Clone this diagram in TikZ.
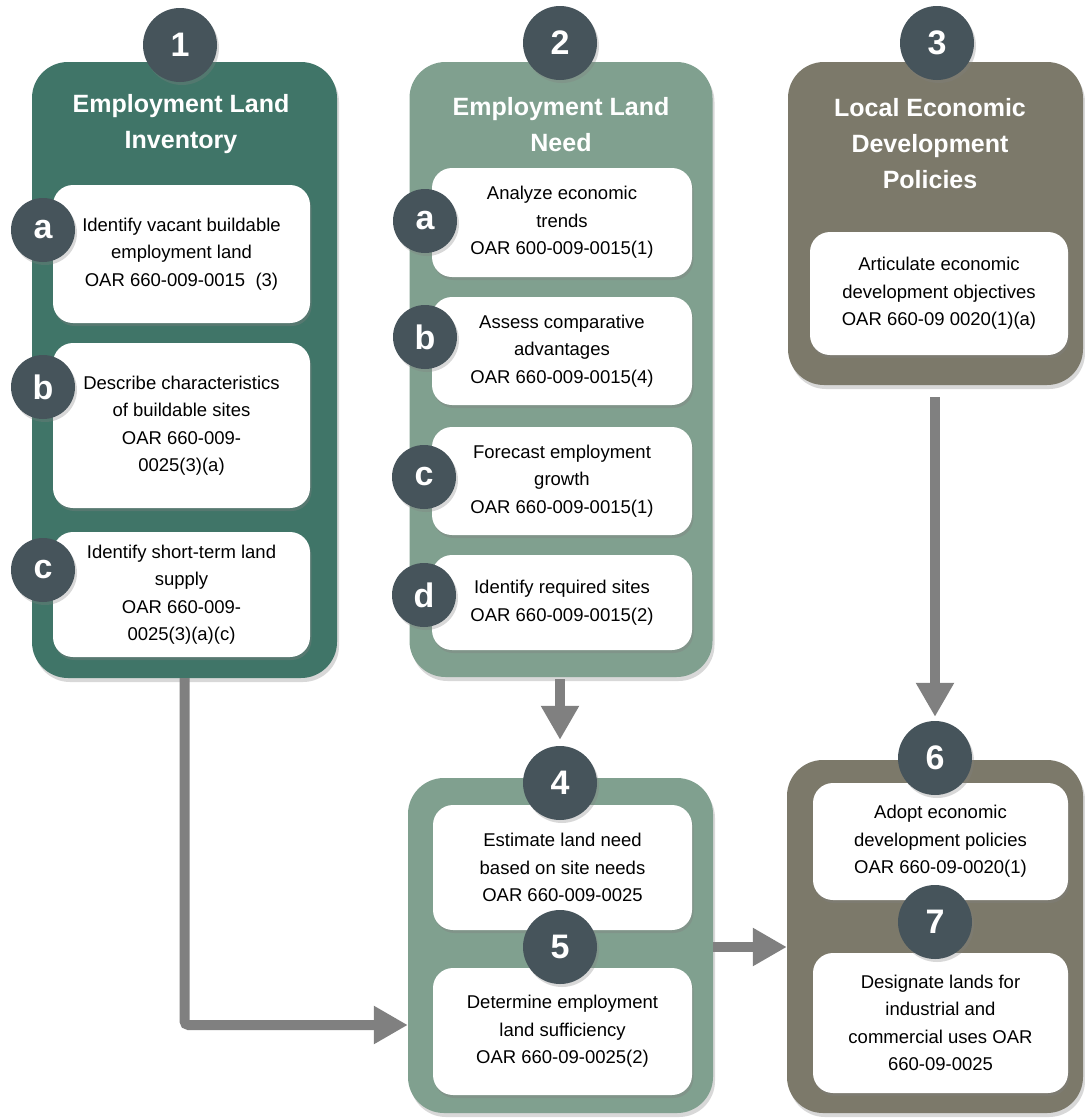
\documentclass[tikz,border=0pt]{standalone}
\usepackage{fontspec}
\setmainfont{Liberation Sans}
\usepackage{xcolor}
\usetikzlibrary{arrows.meta,shadows}
\definecolor{invgreen}{RGB}{64,117,104}
\definecolor{needgreen}{RGB}{128,160,143}
\definecolor{polgray}{RGB}{124,121,106}
\definecolor{slate}{RGB}{70,84,91}
\definecolor{flowgray}{RGB}{128,128,128}

\begin{document}
\begin{tikzpicture}
  [x=1pt,y=-1pt,
   panel/.style={rounded corners=36pt,drop shadow={opacity=.3,shadow xshift=2pt,shadow yshift=-4pt}},
   card/.style={fill=white,rounded corners=20pt,align=center,font=\fontsize{18.5}{27.5}\selectfont,
     drop shadow={opacity=.35,shadow xshift=1.5pt,shadow yshift=-3pt}},
   heading/.style={text=white,align=center,font=\fontsize{25}{36}\selectfont\bfseries},
   badge/.style={circle,fill=slate,text=white,minimum size=74pt,inner sep=0pt,
     font=\fontsize{34}{34}\selectfont\bfseries,drop shadow={opacity=.3,shadow xshift=2pt,shadow yshift=-3pt}},
   tag/.style={badge,minimum size=64pt},
   flow/.style={draw=flowgray,line width=10pt,-{Triangle[width=36pt,length=34pt]}}]

  \fill[white] (0,0) rectangle (1085,1120);
  \useasboundingbox (0,0) rectangle (1085,1120);

  % panels
  \node[panel,fill=invgreen,minimum width=305pt,minimum height=616pt] (p1) at (184.5,370) {};
  \node[panel,fill=needgreen,minimum width=303pt,minimum height=615pt] (p2) at (561,369.5) {};
  \node[panel,fill=polgray,minimum width=295pt,minimum height=323pt] (p3) at (935.5,223.5) {};
  \node[panel,fill=needgreen,minimum width=305pt,minimum height=335pt] (p4) at (560.5,945.5) {};
  \node[panel,fill=polgray,minimum width=296pt,minimum height=353pt] (p6) at (935,936.5) {};

  \node[heading] (t1) at (181,124.5) {Employment Land\\Inventory};
  \node[heading] (t2) at (561,124.5) {Employment Land\\Need};
  \node[heading] (t3) at (930,143.5) {Local Economic\\Development\\Policies};

  % cards
  \node[card,minimum width=257pt,minimum height=138pt] (i1) at (181.5,254) {Identify vacant buildable\\employment land\\OAR 660-009-0015~~(3)};
  \node[card,minimum width=257pt,minimum height=165pt] (i2) at (181.5,425.5) {Describe characteristics\\of buildable sites\\OAR 660-009-\\0025(3)(a)};
  \node[card,minimum width=257pt,minimum height=125pt] (i3) at (181.5,594.5) {Identify short-term land\\supply\\OAR 660-009-\\0025(3)(a)(c)};

  \node[card,minimum width=260pt,minimum height=109pt] (n1) at (562,222.5) {Analyze economic\\trends\\OAR 600-009-0015(1)};
  \node[card,minimum width=260pt,minimum height=108pt] (n2) at (562,351) {Assess comparative\\advantages\\OAR 660-009-0015(4)};
  \node[card,minimum width=260pt,minimum height=108pt] (n3) at (562,481) {Forecast employment\\growth\\OAR 660-009-0015(1)};
  \node[card,minimum width=260pt,minimum height=95pt] (n4) at (562,602.5) {Identify required sites\\OAR 660-009-0015(2)};

  \node[card,minimum width=258pt,minimum height=123pt] (e1) at (939,293.5) {Articulate economic\\development objectives\\OAR 660-09 0020(1)(a)};

  \node[card,minimum width=259pt,minimum height=125pt] (s4) at (562.5,867.5) {Estimate land need\\based on site needs\\OAR 660-009-0025};
  \node[card,minimum width=259pt,minimum height=127pt] (s5) at (562.5,1031.5) {Determine employment\\land sufficiency\\OAR 660-09-0025(2)};
  \node[card,minimum width=255pt,minimum height=117pt] (s6) at (940.5,841.5) {Adopt economic\\development policies\\OAR 660-09-0020(1)};
  \node[card,minimum width=255pt,minimum height=140pt] (s7) at (940.5,1023) {Designate lands for\\industrial and\\commercial uses OAR\\660-09-0025};

  % step badges
  \foreach \name/\x/\y/\txt in {b1/180/45/1,b2/560/43/2,b3/937/43/3,b4/560/783/4,b5/560/947/5,b6/935/758/6,b7/935/922/7}
    \node[badge] (\name) at (\x,\y) {\txt};
  \foreach \name/\x/\y/\txt in {ia/43/230/a,ib/43/387/b,ic/43/570/c,na/425/221/a,nb/425/337/b,nc/424/477/c,nd/424/595/d}
    \node[tag] (\name) at (\x,\y) {\txt};

  % connectors
  \coordinate (j1) at (184.5,1025);
  \draw[flow,rounded corners=4pt] (p1.south) -- (j1) -- (j1 -| p4.west);
  \draw[flow,shorten <=2pt,shorten >=6pt] (b4 |- p2.south) -- (b4.north);
  \draw[flow,shorten <=12pt,shorten >=4pt] (b6 |- p3.south) -- (b6.north);
  \draw[flow] (p4.east |- b5.center) -- (p6.west |- b5.center);
\end{tikzpicture}
\end{document}
